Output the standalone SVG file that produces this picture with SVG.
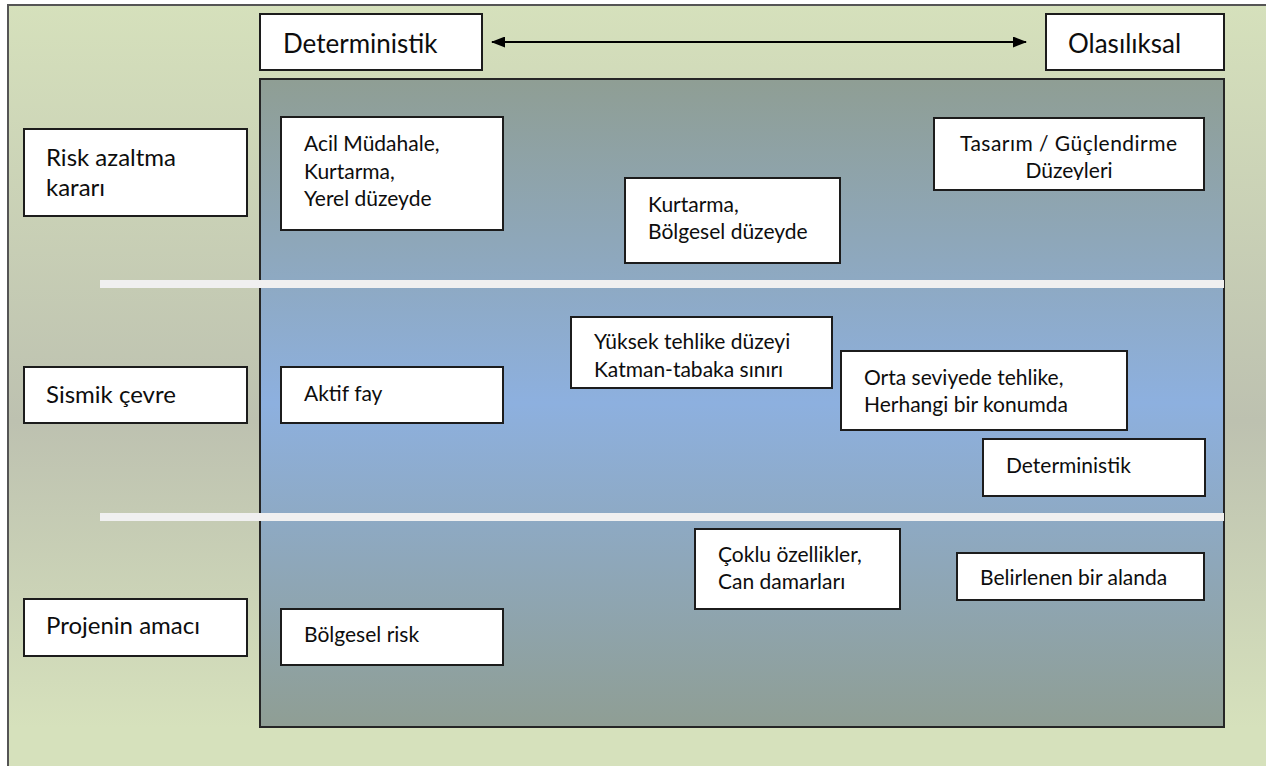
<svg xmlns="http://www.w3.org/2000/svg" width="1266" height="766" viewBox="0 0 1266 766">
  <defs>
    <linearGradient id="bgGrad" x1="0" y1="0" x2="0" y2="766" gradientUnits="userSpaceOnUse">
      <stop offset="0" stop-color="#d6e1bc"/>
      <stop offset="0.55" stop-color="#bdc1b0"/>
      <stop offset="0.95" stop-color="#d6e1bc"/>
      <stop offset="1" stop-color="#d6e1bc"/>
    </linearGradient>
    <linearGradient id="panelGrad" x1="0" y1="79" x2="0" y2="727" gradientUnits="userSpaceOnUse">
      <stop offset="0" stop-color="#8f9e94"/>
      <stop offset="0.5" stop-color="#8db0df"/>
      <stop offset="1" stop-color="#8f9e94"/>
    </linearGradient>
    <marker id="arrowHead" viewBox="0 0 14 11" refX="13" refY="5.5" markerWidth="14" markerHeight="11" orient="auto-start-reverse" markerUnits="userSpaceOnUse">
      <path d="M0,0 L14,5.5 L0,11 z" fill="#000"/>
    </marker>
    <clipPath id="clipTasarim">
      <rect x="934" y="118" width="270" height="62"/>
    </clipPath>
    <style>
      .box { fill: #ffffff; stroke: #1c1c1c; stroke-width: 2; }
      .panel { fill: url(#panelGrad); stroke: #262626; stroke-width: 2; }
      .band { fill: #f0f0f0; }
      .txt { font-family: Lato, "Open Sans", "Liberation Sans", sans-serif; fill: #0d0d0d; }
      .hdr { font-size: 26px; }
      .lbl { font-size: 24px; }
      .in { font-size: 21px; }
      .conn { stroke: #000; stroke-width: 2; fill: none; }
    </style>
  </defs>

  <!-- page background and frame -->
  <rect x="0" y="0" width="1266" height="766" fill="#ffffff"/>
  <rect x="8" y="5" width="1270" height="775" fill="url(#bgGrad)" stroke="#555555" stroke-width="2"/>

  <!-- central panel -->
  <rect class="panel" x="260" y="79" width="964" height="648"/>

  <!-- row separators -->
  <rect class="band" x="100" y="280" width="1124" height="8"/>
  <rect class="band" x="100" y="513" width="1124" height="8"/>

  <!-- connectors -->
  <g id="connectors">
    <line class="conn" x1="492" y1="42" x2="1026" y2="42" marker-start="url(#arrowHead)" marker-end="url(#arrowHead)"/>
  </g>

  <!-- header nodes -->
  <g id="hdr-deterministik">
    <rect class="box" x="260" y="14" width="222" height="56"/>
    <text class="txt hdr" x="283" y="53">Deterministik</text>
  </g>
  <g id="hdr-olasiliksal">
    <rect class="box" x="1046" y="14" width="178" height="56"/>
    <text class="txt hdr" x="1068" y="53">Olasılıksal</text>
  </g>

  <!-- row labels -->
  <g id="lbl-risk">
    <rect class="box" x="24" y="129" width="223" height="87"/>
    <text class="txt lbl" x="46" y="165.5">Risk azaltma</text>
    <text class="txt lbl" x="46" y="196">kararı</text>
  </g>
  <g id="lbl-sismik">
    <rect class="box" x="24" y="367" width="223" height="56"/>
    <text class="txt lbl" x="46" y="403">Sismik çevre</text>
  </g>
  <g id="lbl-proje">
    <rect class="box" x="24" y="599" width="223" height="57"/>
    <text class="txt lbl" x="46" y="634">Projenin amacı</text>
  </g>

  <!-- risk reduction row -->
  <g id="n-acil">
    <rect class="box" x="281" y="117" width="222" height="113"/>
    <text class="txt in" x="304" y="151">Acil Müdahale,</text>
    <text class="txt in" x="304" y="179">Kurtarma,</text>
    <text class="txt in" x="304" y="206">Yerel düzeyde</text>
  </g>
  <g id="n-kurtarma">
    <rect class="box" x="625" y="178" width="215" height="85"/>
    <text class="txt in" x="648" y="211.5">Kurtarma,</text>
    <text class="txt in" x="648" y="239">Bölgesel düzeyde</text>
  </g>
  <g id="n-tasarim">
    <rect class="box" x="934" y="118" width="270" height="72"/>
    <text class="txt in" x="960" y="151" textLength="217" lengthAdjust="spacing">Tasarım / Güçlendirme</text>
    <text class="txt in" x="1069" y="178" text-anchor="middle" clip-path="url(#clipTasarim)">Düzeyleri</text>
  </g>

  <!-- seismic environment row -->
  <g id="n-aktif">
    <rect class="box" x="281" y="367" width="222" height="56"/>
    <text class="txt in" x="304" y="400.5">Aktif fay</text>
  </g>
  <g id="n-yuksek">
    <rect class="box" x="571" y="317" width="261" height="71"/>
    <text class="txt in" x="594" y="349">Yüksek tehlike düzeyi</text>
    <text class="txt in" x="594" y="377">Katman-tabaka sınırı</text>
  </g>
  <g id="n-orta">
    <rect class="box" x="841" y="351" width="286" height="79"/>
    <text class="txt in" x="864" y="385">Orta seviyede tehlike,</text>
    <text class="txt in" x="864" y="412">Herhangi bir konumda</text>
  </g>
  <g id="n-deterministik">
    <rect class="box" x="983" y="439" width="222" height="57"/>
    <text class="txt in" x="1006" y="473">Deterministik</text>
  </g>

  <!-- project purpose row -->
  <g id="n-bolgesel-risk">
    <rect class="box" x="281" y="609" width="222" height="56"/>
    <text class="txt in" x="304" y="641.5">Bölgesel risk</text>
  </g>
  <g id="n-coklu">
    <rect class="box" x="695" y="529" width="205" height="80"/>
    <text class="txt in" x="718" y="562">Çoklu özellikler,</text>
    <text class="txt in" x="718" y="589">Can damarları</text>
  </g>
  <g id="n-belirlenen">
    <rect class="box" x="957" y="553" width="247" height="47"/>
    <text class="txt in" x="980" y="585">Belirlenen bir alanda</text>
  </g>
</svg>
